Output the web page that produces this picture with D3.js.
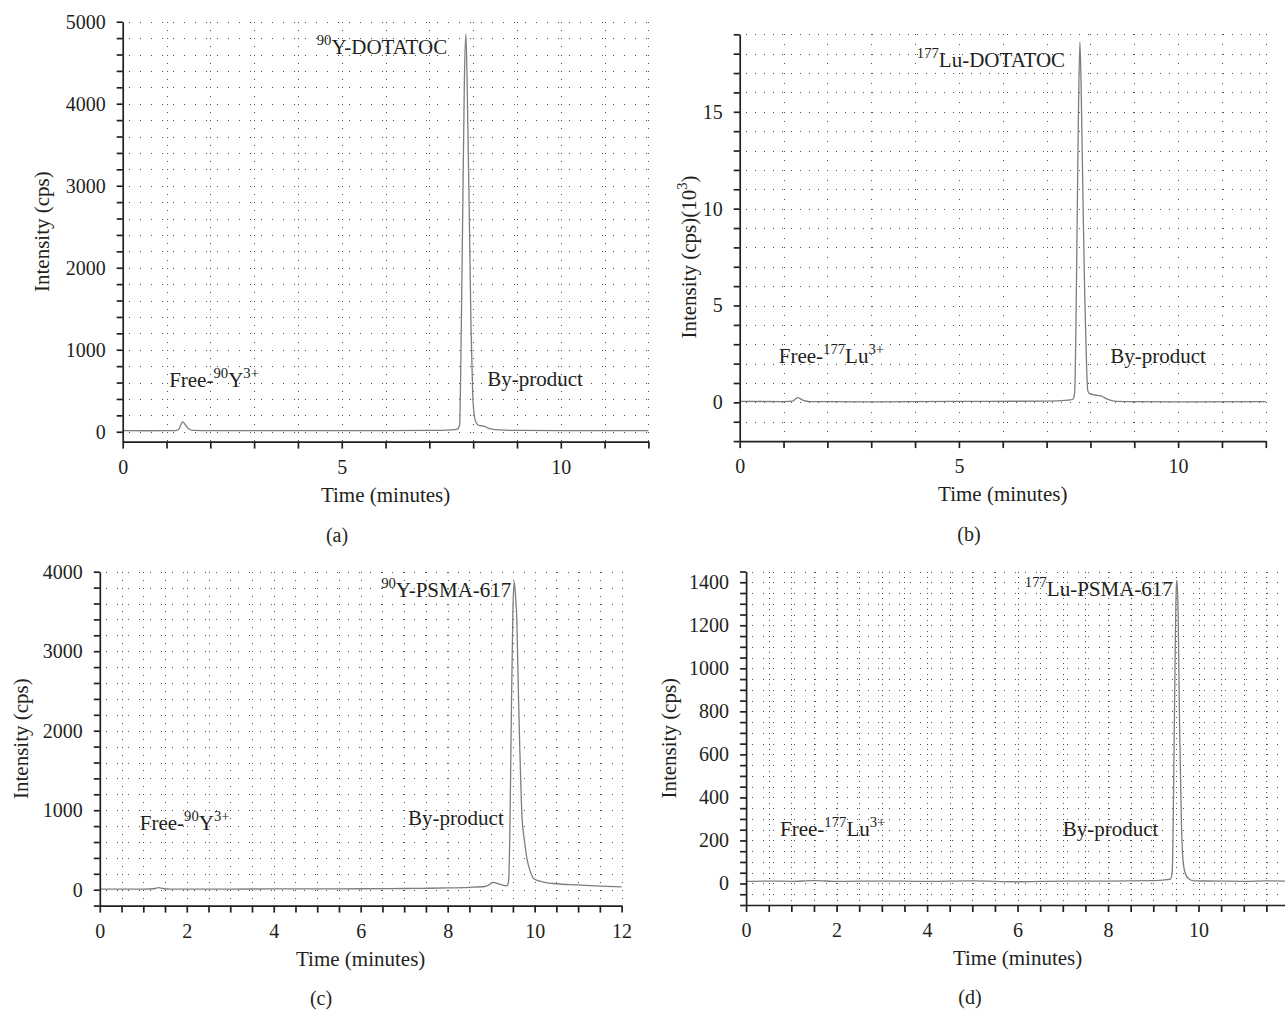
<!DOCTYPE html>
<html><head><meta charset="utf-8">
<script src="https://cdn.jsdelivr.net/npm/d3@7"></script>
<style>
html,body{margin:0;padding:0;background:#fff;}
svg{display:block;}
text{font-family:"Liberation Serif","DejaVu Serif",serif;fill:#231f20;}
</style></head><body>
<svg id="chart" width="1285" height="1010"></svg>
<script>
// ---------------- DATA ----------------
// (a) 90Y-DOTATOC radio-HPLC
const timeA = [0, 0.5, 1.0, 1.2, 1.27, 1.37, 1.45, 1.52, 1.6, 2, 3, 4, 5, 6, 7, 7.5, 7.64, 7.69, 7.72, 7.76, 7.80, 7.835, 7.87, 7.91, 7.95, 7.99, 8.03, 8.08, 8.15, 8.22, 8.30, 8.40, 8.6, 9, 10, 11, 12];
const cpsA  = [14, 12, 14, 15, 25, 120, 70, 30, 18, 14, 13, 14, 13, 15, 17, 24, 33, 80, 900, 2600, 4300, 4850, 4000, 2700, 1300, 450, 180, 100, 75, 72, 55, 35, 22, 16, 15, 14, 15];
// (b) 177Lu-DOTATOC (cps x 10^3)
const timeB = [0, 1, 1.2, 1.32, 1.45, 1.6, 3, 5, 7, 7.5, 7.6, 7.64, 7.67, 7.70, 7.73, 7.76, 7.79, 7.83, 7.87, 7.91, 7.94, 7.98, 8.1, 8.25, 8.4, 8.6, 9, 10, 12];
const kcpsB = [0.05, 0.04, 0.06, 0.24, 0.1, 0.04, 0.03, 0.05, 0.06, 0.12, 0.16, 0.5, 4, 10, 15.5, 18.6, 16, 10.5, 5.5, 2, 0.6, 0.45, 0.38, 0.32, 0.15, 0.05, 0.04, 0.03, 0.04];
// (c) 90Y-PSMA-617
const timeC = [0, 0.5, 1.0, 1.25, 1.35, 1.45, 1.6, 2, 3, 4, 5, 6, 7, 7.5, 8, 8.5, 8.85, 8.95, 9.05, 9.15, 9.25, 9.36, 9.40, 9.43, 9.46, 9.50, 9.53, 9.56, 9.59, 9.63, 9.66, 9.71, 9.77, 9.82, 9.90, 9.98, 10.1, 10.25, 10.5, 11, 11.5, 12];
const cpsC  = [8, 6, 8, 12, 25, 15, 8, 8, 8, 10, 10, 12, 15, 18, 22, 30, 40, 60, 92, 75, 60, 50, 100, 700, 2000, 3500, 3875, 3700, 3400, 2400, 1750, 920, 600, 400, 230, 140, 110, 90, 75, 60, 45, 35];
// (d) 177Lu-PSMA-617
const timeD = [0, 0.5, 1, 1.5, 2, 3, 4, 5, 6, 7, 8, 9, 9.3, 9.38, 9.42, 9.45, 9.48, 9.51, 9.525, 9.55, 9.58, 9.62, 9.66, 9.72, 9.8, 9.9, 10.5, 11, 11.5, 12];
const cpsD  = [10, 11, 10, 13, 10, 11, 10, 12, 8, 11, 11, 13, 18, 20, 60, 450, 1000, 1380, 1410, 1250, 750, 300, 100, 40, 20, 12, 11, 10, 12, 11];

// tick labels
const xTickLabelsA = [0, 5, 10];
const yTickLabelsA = [0, 1000, 2000, 3000, 4000, 5000];
const xTickLabelsB = [0, 5, 10];
const yTickLabelsB = [0, 5, 10, 15];
const xTickLabelsC = [0, 2, 4, 6, 8, 10, 12];
const yTickLabelsC = [0, 1000, 2000, 3000, 4000];
const xTickLabelsD = [0, 2, 4, 6, 8, 10];
const yTickLabelsD = [0, 200, 400, 600, 800, 1000, 1200, 1400];

// texts (^{..} = superscript)
const xTitle = "Time (minutes)";
const yTitles = ["Intensity (cps)", "Intensity (cps)(10^{3})", "Intensity (cps)", "Intensity (cps)"];
const captions = ["(a)", "(b)", "(c)", "(d)"];
const annotationTextA = ["^{90}Y-DOTATOC", "Free-^{90}Y^{3+}", "By-product"];
const annotationTimeA = [4.43, 1.06, 8.32];
const annotationValA  = [4606, 546, 558];
const annotationTextB = ["^{177}Lu-DOTATOC", "Free-^{177}Lu^{3+}", "By-product"];
const annotationTimeB = [4.04, 0.89, 8.45];
const annotationValB  = [17.33, 2.05, 2.05];
const annotationTextC = ["^{90}Y-PSMA-617", "Free-^{90}Y^{3+}", "By-product"];
const annotationTimeC = [6.47, 0.92, 7.09];
const annotationValC  = [3682, 751, 816];
const annotationTextD = ["^{177}Lu-PSMA-617", "Free-^{177}Lu^{3+}", "By-product"];
const annotationTimeD = [6.16, 0.75, 7.0];
const annotationValD  = [1336, 221, 221];

// ---------------- DRAWING ----------------
const INK = "#231f20";
const svg = d3.select("#chart");

function richText(sel, str, size) {
  const parts = str.split(/\^\{([^}]*)\}/);
  let raised = false;
  parts.forEach((p, i) => {
    if (p === "") return;
    const isSup = i % 2 === 1;
    const ts = sel.append("tspan").text(p);
    if (isSup) {
      ts.attr("font-size", size * 0.7);
      if (!raised) { ts.attr("dy", -size * 0.42); raised = true; }
    } else {
      ts.attr("font-size", size);
      if (raised) { ts.attr("dy", size * 0.42); raised = false; }
    }
  });
}

function ticksFrom(domain, step) {
  const out = [];
  const start = Math.ceil(domain[0] / step - 1e-9);
  for (let k = start; k * step <= domain[1] + 1e-9; k++) out.push(+(k * step).toFixed(6));
  return out;
}

function drawPanel(cfg) {
  const x = d3.scaleLinear().domain(cfg.xDomain).range(cfg.xRange);
  const y = d3.scaleLinear().domain(cfg.yDomain).range(cfg.yRange);
  const g = svg.append("g");
  const xt = ticksFrom(cfg.xDomain, cfg.xStep);
  const yt = ticksFrom(cfg.yDomain, cfg.yStep);
  const top = y(cfg.yDomain[1]), bot = y(cfg.yDomain[0]);
  const left = x(cfg.xDomain[0]), right = x(cfg.xDomain[1]);
  const ySp = Math.abs(y(cfg.yStep) - y(0));

  // dotted grid
  const grid = g.append("g").attr("stroke", "#505050").attr("stroke-width", 1)
    .attr("shape-rendering", "crispEdges").attr("fill", "none");
  grid.selectAll("line.h").data(yt.filter(v => v > cfg.yDomain[0] + 1e-9)).join("line")
    .attr("class", "h")
    .attr("x1", left + 6).attr("x2", right)
    .attr("y1", v => Math.round(y(v)) + 0.5).attr("y2", v => Math.round(y(v)) + 0.5)
    .attr("stroke-dasharray", `1 ${cfg.hGap - 1}`);
  grid.selectAll("line.v").data(xt.filter(v => v > cfg.xDomain[0] + 1e-9)).join("line")
    .attr("class", "v")
    .attr("x1", v => Math.round(x(v)) + 0.5).attr("x2", v => Math.round(x(v)) + 0.5)
    .attr("y1", top).attr("y2", bot)
    .attr("stroke-dasharray", `1 ${ySp / 2 - 1}`);

  // curve
  const pts = cfg.time.map((t, i) => [t, cfg.value[i]]);
  g.append("path").datum(pts)
    .attr("fill", "none").attr("stroke", "#7d7d7d").attr("stroke-width", 1.3)
    .attr("stroke-linejoin", "round")
    .attr("d", d3.line().x(d => x(d[0])).y(d => y(d[1])).curve(d3.curveMonotoneX));

  const has = (arr, v) => arr.some(l => Math.abs(l - v) < 1e-9);
  // y axis
  const ya = g.append("g").attr("transform", `translate(${left},0)`)
    .call(d3.axisLeft(y).tickValues(yt).tickSize(6).tickSizeOuter(0).tickPadding(11)
      .tickFormat(v => has(cfg.yLabels, v) ? String(v) : ""));
  // x axis
  const xa = g.append("g").attr("transform", `translate(0,${bot})`)
    .call(d3.axisBottom(x).tickValues(xt).tickSize(7).tickSizeOuter(0).tickPadding(11)
      .tickFormat(v => has(cfg.xLabels, v) ? String(v) : ""));
  [ya, xa].forEach(a => {
    a.attr("color", INK).attr("font-size", 20).attr("font-family", null);
    a.selectAll("path, line").attr("stroke-width", 1.7);
    a.selectAll("text").attr("fill", INK);
  });

  // titles
  g.append("text").attr("x", (left + right) / 2).attr("y", bot + cfg.xTitleOff)
    .attr("text-anchor", "middle").attr("font-size", 21).text(xTitle);
  const yt2 = g.append("text").attr("text-anchor", "middle").attr("font-size", 21)
    .attr("transform", `translate(${left - cfg.yTitleOff},${cfg.yTitleY !== undefined ? cfg.yTitleY : (top + bot) / 2}) rotate(-90)`);
  richText(yt2, cfg.yTitle, 21);
  g.append("text").attr("x", cfg.capX).attr("y", bot + cfg.capOff)
    .attr("text-anchor", "middle").attr("font-size", 20).text(cfg.caption);

  // annotations
  cfg.annText.forEach((s, i) => {
    const t = g.append("text").attr("x", x(cfg.annTime[i])).attr("y", y(cfg.annVal[i]))
      .attr("font-size", 21);
    richText(t, s, 21);
  });
}

drawPanel({
  time: timeA, value: cpsA, xDomain: [0, 12], yDomain: [-120, 5000],
  xRange: [122.7, 648.4], yRange: [441.6, 21.7], xStep: 1, yStep: 200, hGap: 11,
  xLabels: xTickLabelsA, yLabels: yTickLabelsA, yTitle: yTitles[0], yTitleOff: 74,
  xTitleOff: 60, caption: captions[0], capX: 337, capOff: 100,
  annText: annotationTextA, annTime: annotationTimeA, annVal: annotationValA
});
drawPanel({
  time: timeB, value: kcpsB, xDomain: [0, 12], yDomain: [-2, 19],
  xRange: [739.7, 1265.8], yRange: [441.1, 34.3], xStep: 1, yStep: 1, hGap: 9,
  xLabels: xTickLabelsB, yLabels: yTickLabelsB, yTitle: yTitles[1], yTitleOff: 44, yTitleY: 257,
  xTitleOff: 60, caption: captions[1], capX: 969, capOff: 100,
  annText: annotationTextB, annTime: annotationTimeB, annVal: annotationValB
});
drawPanel({
  time: timeC, value: cpsC, xDomain: [0, 12], yDomain: [-200, 4000],
  xRange: [99.8, 621.6], yRange: [905.6, 571.7], xStep: 0.5, yStep: 200, hGap: 11,
  xLabels: xTickLabelsC, yLabels: yTickLabelsC, yTitle: yTitles[2], yTitleOff: 72,
  xTitleOff: 60, caption: captions[2], capX: 321, capOff: 99,
  annText: annotationTextC, annTime: annotationTimeC, annVal: annotationValC
});
drawPanel({
  time: timeD, value: cpsD, xDomain: [0, 12], yDomain: [-100, 1450],
  xRange: [746.1, 1289], yRange: [905, 571.5], xStep: 0.5, yStep: 50, hGap: 10.5,
  xLabels: xTickLabelsD, yLabels: yTickLabelsD, yTitle: yTitles[3], yTitleOff: 70.5,
  xTitleOff: 60, caption: captions[3], capX: 970, capOff: 99,
  annText: annotationTextD, annTime: annotationTimeD, annVal: annotationValD
});
</script>
</body></html>
